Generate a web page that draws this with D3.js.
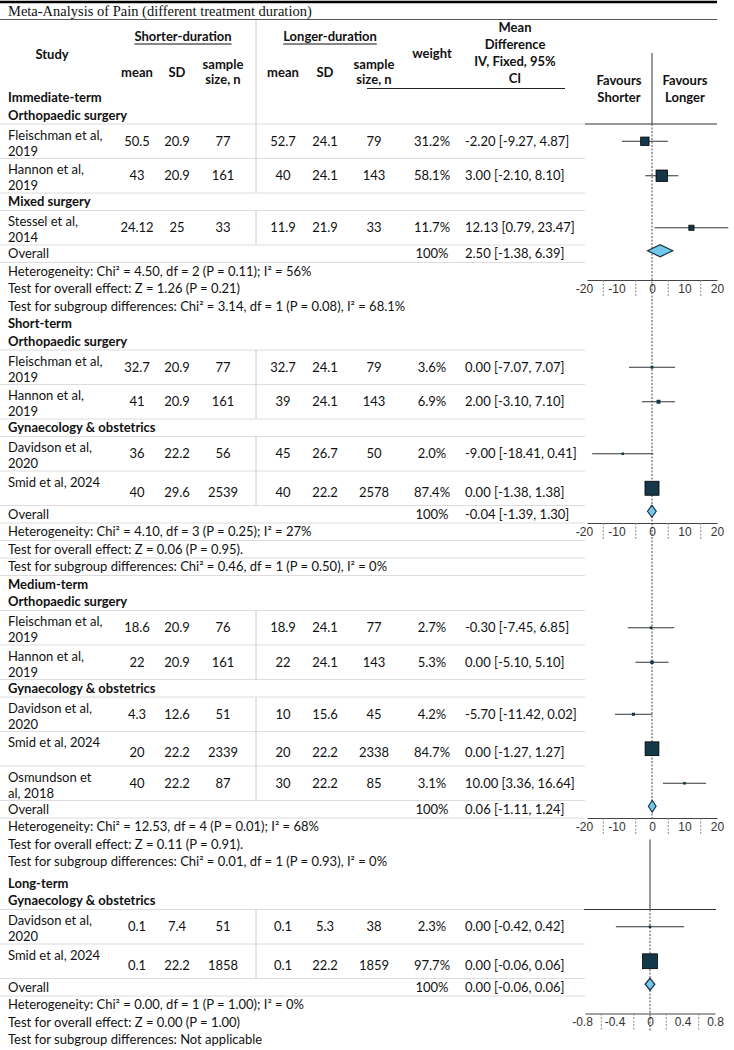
<!DOCTYPE html>
<html lang="en">
<head>
<meta charset="UTF-8">
<title>Meta-Analysis of Pain (different treatment duration)</title>
<script src="https://d3js.org/d3.v7.min.js"></script>
<style>
  body { margin: 0; background: #fff; }
  text { font-family: Lato, "Noto Sans", sans-serif; font-size: 13px; fill: #111; }
  .bold { font-weight: bold; }
  .title { font-family: "Liberation Serif", "Times New Roman", serif; font-size: 14.5px; }
  .tick text { font-family: "Liberation Sans", Arial, sans-serif; font-size: 12px; fill: #333; }
</style>
</head>
<body>
<div id="chart"></div>
<script>
// ---- data ----
const terms = ["Immediate-term", "Short-term", "Medium-term", "Long-term"];

const studyNames = [
  ["Fleischman et al,", "2019"], ["Hannon et al,", "2019"], ["Stessel et al,", "2014"],
  ["Fleischman et al,", "2019"], ["Hannon et al,", "2019"], ["Davidson et al,", "2020"], ["Smid et al, 2024"],
  ["Fleischman et al,", "2019"], ["Hannon et al,", "2019"], ["Davidson et al,", "2020"], ["Smid et al, 2024"], ["Osmundson et", "al, 2018"],
  ["Davidson et al,", "2020"], ["Smid et al, 2024"]
];
const studyTerm = [0, 0, 0, 1, 1, 1, 1, 2, 2, 2, 2, 2, 3, 3];
const studyGroup = [
  "Orthopaedic surgery", "Orthopaedic surgery", "Mixed surgery",
  "Orthopaedic surgery", "Orthopaedic surgery", "Gynaecology & obstetrics", "Gynaecology & obstetrics",
  "Orthopaedic surgery", "Orthopaedic surgery", "Gynaecology & obstetrics", "Gynaecology & obstetrics", "Gynaecology & obstetrics",
  "Gynaecology & obstetrics", "Gynaecology & obstetrics"
];

const shorterMean = [50.5, 43, 24.12, 32.7, 41, 36, 40, 18.6, 22, 4.3, 20, 40, 0.1, 0.1];
const shorterSD   = [20.9, 20.9, 25, 20.9, 20.9, 22.2, 29.6, 20.9, 20.9, 12.6, 22.2, 22.2, 7.4, 22.2];
const shorterN    = [77, 161, 33, 77, 161, 56, 2539, 76, 161, 51, 2339, 87, 51, 1858];
const longerMean  = [52.7, 40, 11.9, 32.7, 39, 45, 40, 18.9, 22, 10, 20, 30, 0.1, 0.1];
const longerSD    = [24.1, 24.1, 21.9, 24.1, 24.1, 26.7, 22.2, 24.1, 24.1, 15.6, 22.2, 22.2, 5.3, 22.2];
const longerN     = [79, 143, 33, 79, 143, 50, 2578, 77, 143, 45, 2338, 85, 38, 1859];
const weight      = [31.2, 58.1, 11.7, 3.6, 6.9, 2.0, 87.4, 2.7, 5.3, 4.2, 84.7, 3.1, 2.3, 97.7];
const meanDiff    = [-2.20, 3.00, 12.13, 0.00, 2.00, -9.00, 0.00, -0.30, 0.00, -5.70, 0.00, 10.00, 0.00, 0.00];
const ciLow       = [-9.27, -2.10, 0.79, -7.07, -3.10, -18.41, -1.38, -7.45, -5.10, -11.42, -1.27, 3.36, -0.42, -0.06];
const ciHigh      = [4.87, 8.10, 23.47, 7.07, 7.10, 0.41, 1.38, 6.85, 5.10, 0.02, 1.27, 16.64, 0.42, 0.06];

const overallMD   = [2.50, -0.04, 0.06, 0.00];
const overallLow  = [-1.38, -1.39, -1.11, -0.06];
const overallHigh = [6.39, 1.30, 1.24, 0.06];

const hetText = [
  "Heterogeneity: Chi² = 4.50, df = 2 (P = 0.11); I² = 56%",
  "Heterogeneity: Chi² = 4.10, df = 3 (P = 0.25); I² = 27%",
  "Heterogeneity: Chi² = 12.53, df = 4 (P = 0.01); I² = 68%",
  "Heterogeneity: Chi² = 0.00, df = 1 (P = 1.00); I² = 0%"
];
const effectText = [
  "Test for overall effect: Z = 1.26 (P = 0.21)",
  "Test for overall effect: Z = 0.06 (P = 0.95).",
  "Test for overall effect: Z = 0.11 (P = 0.91).",
  "Test for overall effect: Z = 0.00 (P = 1.00)"
];
const subgroupText = [
  "Test for subgroup differences: Chi² = 3.14, df = 1 (P = 0.08), I² = 68.1%",
  "Test for subgroup differences: Chi² = 0.46, df = 1 (P = 0.50), I² = 0%",
  "Test for subgroup differences: Chi² = 0.01, df = 1 (P = 0.93), I² = 0%",
  "Test for subgroup differences: Not applicable"
];

const ticksWide = [-20, -10, 0, 10, 20];
const minorWide = [-15, -5, 5, 15];
const ticksNarrow = [-0.8, -0.4, 0, 0.4, 0.8];
const minorNarrow = [-0.6, -0.2, 0.2, 0.6];

// ---- layout ----
const width = 734, height = 1050;
const tableRight = 585;
const col = {mean1: 137, sd1: 177, n1: 223, mean2: 283, sd2: 325, n2: 374, weight: 432, md: 465};

const svg = d3.select("#chart").append("svg")
  .attr("width", width)
  .attr("height", height);

// build the row list from the arrays
const rows = [];
terms.forEach((t, ti) => {
  rows.push({kind: "term", text: t, h: 17.5});
  let prev = null;
  studyNames.forEach((n, i) => {
    if (studyTerm[i] !== ti) return;
    if (studyGroup[i] !== prev) {
      rows.push({kind: "group", text: studyGroup[i], h: 17.5});
      prev = studyGroup[i];
    }
    rows.push({kind: "study", i: i, term: ti, h: 34.5});
  });
  rows.push({kind: "overall", term: ti, h: 17.5});
  rows.push({kind: "stat", tag: "het", term: ti, text: hetText[ti], h: 17.5});
  rows.push({kind: "stat", term: ti, text: effectText[ti], h: 17.5});
  rows.push({kind: "stat", term: ti, text: subgroupText[ti], h: 17.5});
  if (ti === 2) rows.push({kind: "gap", h: 4});
});
let yy = 89;
rows.forEach(r => { r.y0 = yy; yy += r.h; r.y1 = yy; r.cy = (r.y0 + r.y1) / 2; });

// ---- top rules and title ----
svg.append("line").attr("x1", 0).attr("x2", 717).attr("y1", 2).attr("y2", 2)
  .attr("stroke", "#000").attr("stroke-width", 2.5);
svg.append("text").attr("class", "title").attr("x", 8).attr("y", 16)
  .text("Meta-Analysis of Pain (different treatment duration)");
svg.append("line").attr("x1", 0).attr("x2", 717).attr("y1", 19.5).attr("y2", 19.5)
  .attr("stroke", "#555").attr("stroke-width", 1);

// ---- header ----
const head = svg.append("g").attr("class", "header");
function htext(x, y, s, anchor) {
  return head.append("text").attr("class", "bold").attr("x", x).attr("y", y)
    .attr("text-anchor", anchor || "middle").text(s);
}
htext(52, 59, "Study");
[["Shorter-duration", 183], ["Longer-duration", 330]].forEach(([s, x]) => {
  const t = htext(x, 41, s);
  const bb = t.node().getBBox();
  head.append("line").attr("x1", bb.x).attr("x2", bb.x + bb.width)
    .attr("y1", 44).attr("y2", 44).attr("stroke", "#111").attr("stroke-width", 1);
});
[[col.mean1, col.sd1, col.n1], [col.mean2, col.sd2, col.n2]].forEach(c => {
  htext(c[0], 77, "mean");
  htext(c[1], 77, "SD");
  htext(c[2], 69, "sample");
  htext(c[2], 84, "size, n");
});
htext(col.weight, 58, "weight");
["Mean", "Difference", "IV, Fixed, 95%", "CI"].forEach((s, k) => htext(515, 32 + k * 17, s));
svg.append("line").attr("x1", 367).attr("x2", 565).attr("y1", 88.5).attr("y2", 88.5)
  .attr("stroke", "#222");
htext(619, 85, "Favours");
htext(619, 102, "Shorter");
htext(685, 85, "Favours");
htext(685, 102, "Longer");

// ---- table body ----
const body = svg.append("g").attr("class", "body");
const firstStudy = rows.find(r => r.kind === "study");

// divider between the two arms
body.append("line").attr("x1", 256).attr("x2", 256).attr("y1", 20).attr("y2", firstStudy.y0)
  .attr("stroke", "#ccc");

rows.forEach(r => {
  // light rules under rows (statistics lines only ruled in the short-term block)
  const ruled = r.kind === "study" || r.kind === "group" || r.kind === "overall" ||
    (r.kind === "stat" && r.term === 1);
  if (ruled) {
    body.append("line").attr("x1", 0).attr("x2", tableRight).attr("y1", r.y1).attr("y2", r.y1)
      .attr("stroke", "#dcdcdc").attr("stroke-width", 1);
  }
  if (r.kind === "term" || r.kind === "group") {
    body.append("text").attr("class", "bold").attr("x", 8).attr("y", r.cy).attr("dy", "0.36em").text(r.text);
  } else if (r.kind === "stat") {
    body.append("text").attr("x", 8).attr("y", r.cy).attr("dy", "0.36em").text(r.text);
  } else if (r.kind === "overall") {
    body.append("text").attr("x", 8).attr("y", r.cy).attr("dy", "0.36em").text("Overall");
    body.append("text").attr("x", col.weight).attr("y", r.cy).attr("dy", "0.36em")
      .attr("text-anchor", "middle").text("100%");
    body.append("text").attr("x", col.md).attr("y", r.cy).attr("dy", "0.36em")
      .text(`${overallMD[r.term].toFixed(2)} [${overallLow[r.term].toFixed(2)}, ${overallHigh[r.term].toFixed(2)}]`);
  } else if (r.kind === "study") {
    const i = r.i;
    body.append("line").attr("x1", 256).attr("x2", 256).attr("y1", r.y0).attr("y2", r.y1)
      .attr("stroke", "#ccc");
    studyNames[i].forEach((s, k) => {
      body.append("text").attr("x", 8).attr("y", r.y0 + 11 + k * 16).attr("dy", "0.36em").text(s);
    });
    const cells = [
      [col.mean1, String(shorterMean[i])], [col.sd1, String(shorterSD[i])], [col.n1, String(shorterN[i])],
      [col.mean2, String(longerMean[i])], [col.sd2, String(longerSD[i])], [col.n2, String(longerN[i])],
      [col.weight, weight[i].toFixed(1) + "%"]
    ];
    const ty = studyNames[i].length === 1 ? r.cy + 4 : r.cy;
    cells.forEach(([x, s]) => {
      body.append("text").attr("x", x).attr("y", ty).attr("dy", "0.36em")
        .attr("text-anchor", "middle").text(s);
    });
    body.append("text").attr("x", col.md).attr("y", ty).attr("dy", "0.36em")
      .text(`${meanDiff[i].toFixed(2)} [${ciLow[i].toFixed(2)}, ${ciHigh[i].toFixed(2)}]`);
  }
});

// ---- forest plot ----
const xWide = d3.scaleLinear().domain([-20, 20]).range([587, 717]);
const xNarrow = d3.scaleLinear().domain([-0.8, 0.8]).range([585, 715]);
const boxSize = d3.scaleSqrt().domain([0, 100]).range([0, 15]);
const forest = svg.append("g").attr("class", "forest");

function scaleFor(t) { return t === 3 ? xNarrow : xWide; }

// header of the first panel
const x0 = xWide(0);
forest.append("line").attr("x1", x0).attr("x2", x0).attr("y1", 53).attr("y2", firstStudy.y0)
  .attr("stroke", "#555").attr("stroke-width", 1.2);
forest.append("line").attr("x1", xWide(-20) - 2).attr("x2", xWide(20)).attr("y1", firstStudy.y0).attr("y2", firstStudy.y0)
  .attr("stroke", "#333").attr("stroke-width", 1.2);

// axis per term
const axisY = terms.map((t, ti) => {
  const tag = (ti === 0 || ti === 3) ? "het" : "overall";
  const r = rows.find(q => q.term === ti && (tag === "het" ? q.tag === "het" : q.kind === "overall"));
  return r.y1;
});

// dashed zero line through the first three panels
forest.append("line").attr("x1", x0).attr("x2", x0).attr("y1", firstStudy.y0).attr("y2", axisY[2])
  .attr("stroke", "#666").attr("stroke-width", 1.2).attr("stroke-dasharray", "2,1.5");

// header of the long-term panel
const longFirst = rows.find(r => r.kind === "study" && r.term === 3);
const xl0 = xNarrow(0);
forest.append("line").attr("x1", xl0).attr("x2", xl0).attr("y1", longFirst.y0 - 70).attr("y2", longFirst.y0)
  .attr("stroke", "#555").attr("stroke-width", 1.2);
forest.append("line").attr("x1", xNarrow(-0.8) - 1).attr("x2", xNarrow(0.8) + 1).attr("y1", longFirst.y0).attr("y2", longFirst.y0)
  .attr("stroke", "#333").attr("stroke-width", 1.2);
forest.append("line").attr("x1", xl0).attr("x2", xl0).attr("y1", longFirst.y0).attr("y2", axisY[3] + 17)
  .attr("stroke", "#666").attr("stroke-width", 1.2).attr("stroke-dasharray", "2,1.5");

terms.forEach((t, ti) => {
  const x = scaleFor(ti);
  const ay = axisY[ti];
  const g = forest.append("g").attr("transform", `translate(0,${ay})`)
    .call(d3.axisBottom(x).tickValues(ti === 3 ? ticksNarrow : ticksWide)
      .tickSize(0).tickPadding(4).tickFormat(d => String(d)));
  g.select(".domain").attr("stroke", "#444");
  g.selectAll(".tick text").attr("dx", d => d < 0 ? "-3px" : "0");
  forest.selectAll(null).data(ti === 3 ? minorNarrow : minorWide).enter().append("line")
    .attr("x1", d => x(d)).attr("x2", d => x(d))
    .attr("y1", ay).attr("y2", ay + 17)
    .attr("stroke", "#888").attr("stroke-dasharray", "2,1.5");
});

// study estimates
const studyRows = rows.filter(r => r.kind === "study");
studyRows.forEach(r => {
  const i = r.i, x = scaleFor(r.term);
  forest.append("line").attr("x1", x(ciLow[i])).attr("x2", x(ciHigh[i]))
    .attr("y1", r.cy).attr("y2", r.cy).attr("stroke", "#333").attr("stroke-width", 1);
  const s = Math.max(2.5, boxSize(weight[i]));
  forest.append("rect").attr("x", x(meanDiff[i]) - s / 2).attr("y", r.cy - s / 2)
    .attr("width", s).attr("height", s)
    .attr("fill", "#15374a").attr("stroke", "#000").attr("stroke-width", s > 4 ? 0.8 : 0);
});

// pooled diamonds
rows.filter(r => r.kind === "overall").forEach(r => {
  const ti = r.term, x = scaleFor(ti), cy = r.cy - 3;
  const pts = [
    [x(overallLow[ti]), cy], [x(overallMD[ti]), cy - 6],
    [x(overallHigh[ti]), cy], [x(overallMD[ti]), cy + 6]
  ];
  forest.append("polygon").attr("points", pts.map(p => p.join(",")).join(" "))
    .attr("fill", "#74c8ee").attr("stroke", "#1a3442").attr("stroke-width", 1.2);
});
</script>
</body>
</html>
